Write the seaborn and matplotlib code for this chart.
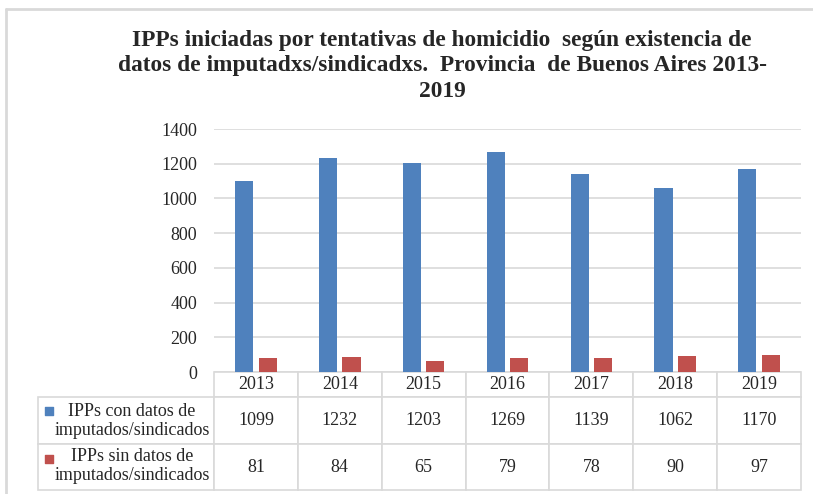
import pandas as pd
import matplotlib.pyplot as plt
import seaborn as sns
from matplotlib.lines import Line2D

years = ['2013', '2014', '2015', '2016', '2017', '2018', '2019']
con_datos = [1099, 1232, 1203, 1269, 1139, 1062, 1170]
sin_datos = [81, 84, 65, 79, 78, 90, 97]
series = ['IPPs con datos de\nimputados/sindicados', 'IPPs sin datos de\nimputados/sindicados']
colors = ['#4F81BD', '#C0504D']
title = ('IPPs iniciadas por tentativas de homicidio  según existencia de\n'
         'datos de imputadxs/sindicadxs.  Provincia  de Buenos Aires 2013-\n2019')

df = pd.DataFrame({'year': years * 2,
                   'value': con_datos + sin_datos,
                   'serie': [series[0]] * 7 + [series[1]] * 7})

sns.set_style('white')
plt.rcParams['font.family'] = ['Liberation Serif', 'DejaVu Sans']

fig = plt.figure(figsize=(8.13, 4.94), dpi=100)
W, H = 813, 494
ax_l, ax_r, ax_t, ax_b = 214, 801, 129, 372
ax = fig.add_axes([ax_l / W, 1 - ax_b / H, (ax_r - ax_l) / W, (ax_b - ax_t) / H])

sns.barplot(data=df, x='year', y='value', hue='serie', palette=colors,
            saturation=1, width=0.56, gap=0.23, ax=ax, legend=False,
            edgecolor='none')

ax.set_ylim(0, 1400)
ax.set_yticks(range(0, 1401, 200))
ax.yaxis.grid(True, color='#D9D9D9', linewidth=1.2)
ax.set_axisbelow(True)
for s in ax.spines.values():
    s.set_visible(False)
ax.set_xlabel('')
ax.set_ylabel('')
ax.set_xticklabels([])
ax.tick_params(axis='y', length=0, labelsize=13, pad=12)
ax.tick_params(axis='x', length=0)

# data table under the chart
aw = ax_r - ax_l
ah = ax_b - ax_t
tbl_left = 38
tbl_bottom = 490
row_h = {0: 25, 1: 47, 2: 46}
cell_text = [[str(v) for v in con_datos], [str(v) for v in sin_datos]]
tbl = ax.table(cellText=cell_text, colLabels=years, cellLoc='center',
               bbox=[0, (ax_b - tbl_bottom) / ah, 1, (tbl_bottom - ax_b) / ah])
tbl.auto_set_font_size(False)
for r in (1, 2):
    tbl.add_cell(r, -1, width=(ax_l - tbl_left) / aw, height=row_h[r] / ah, text='')
for (r, c), cell in tbl.get_celld().items():
    cell.set_edgecolor('#D9D9D9')
    cell.set_linewidth(1.2)
    cell.set_height(row_h[r] / ah)
    cell.get_text().set_fontsize(13)
    if c >= 0:
        cell.set_width(1 / 7)

# row labels with their legend keys
for i, (yk, yt) in enumerate([(411, 421), (459, 466)]):
    ax.scatter([(49 - ax_l) / aw], [(ax_b - yk) / ah], marker='s', s=40,
               color=colors[i], transform=ax.transAxes, clip_on=False)
    ax.text((132 - ax_l) / aw, (ax_b - yt) / ah, series[i], transform=ax.transAxes,
            ha='center', va='center', fontsize=13, linespacing=1.2)
ax.set_xlim(-0.5, len(years) - 0.5)

fig.text(442 / W, 1 - 30 / H, title, ha='center', va='top',
         fontsize=16.8, fontweight='bold', linespacing=1.28)

# outer chart frame (top and left)
fig.add_artist(Line2D([6 / W, 1], [1 - 9 / H, 1 - 9 / H], color='#D9D9D9', lw=2))
fig.add_artist(Line2D([6 / W, 6 / W], [0, 1 - 9 / H], color='#D9D9D9', lw=2))

fig.savefig('out.png', dpi=100)
